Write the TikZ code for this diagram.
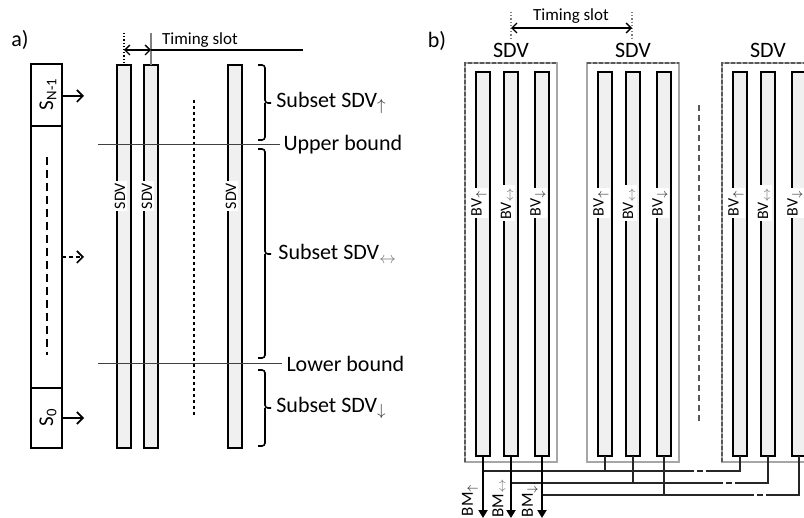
\documentclass[tikz,border=0pt]{standalone}
\usepackage{fontspec}
\setmainfont{Carlito}
\usetikzlibrary{arrows.meta}

\newcommand{\arrUp}{\textcolor{darkgray}{$_{\uparrow}$}}
\newcommand{\arrBoth}{\textcolor{gray}{$_{\leftrightarrow}$}}
\newcommand{\arrDown}{\textcolor{darkgray}{$_{\downarrow}$}}

\begin{document}
\begin{tikzpicture}[x=0.5pt, y=-0.5pt,
    bigtext/.style={font=\fontsize{11}{13}\selectfont},
    slottext/.style={font=\fontsize{8.5}{10}\selectfont},
    barlabel/.style={rotate=90, fill=white, inner sep=0.8pt, font=\fontsize{8}{9}\selectfont},
    bmlabel/.style={rotate=90, inner sep=0pt, font=\fontsize{8.5}{10}\selectfont},
    slotbox/.style={draw=black, line width=1.1pt},
    sdvbar/.style={draw=black, fill=barFill, line width=0.9pt},
    bvbar/.style={draw=black, fill=barFill, line width=1pt},
    groupbox/.style={draw=boxGrey, line width=0.6pt},
    groupdash/.style={draw=dashGrey, line width=0.6pt, dash pattern=on 2pt off 1pt},
    boundline/.style={draw=darkgray, line width=0.5pt},
    squarebrace/.style={line width=0.8pt, rounded corners=1.5pt},
    outarrow/.style={-{Straight Barb[length=3pt,width=6pt]}, line width=0.8pt},
    slotarrow/.style={{Straight Barb[length=2.5pt,width=5pt]}-{Straight Barb[length=2.5pt,width=5pt]}, line width=0.7pt},
    bus/.style={draw=busColour, line width=1.1pt},
    busgap/.style={draw=busColour, line width=1.1pt, dash pattern=on 3pt off 1.5pt},
    bmarrow/.style={-{Triangle[length=4pt,width=4.5pt]}, line width=1.1pt},
]
    \definecolor{barFill}{HTML}{F0F0F0}
    \definecolor{boxGrey}{HTML}{A6A6A6}
    \definecolor{dashGrey}{HTML}{595959}
    \definecolor{busColour}{HTML}{262626}

    % Fix picture size
    \useasboundingbox (0,0) rectangle (804,518);
    \clip (0,0) rectangle (804,518);

    % ---------- a) ----------
    \node[bigtext] (labA) at (20,40) {a)};

    % Slot column
    \draw[slotbox] (31,64) rectangle (62,448);
    \draw[slotbox] (31,126) -- (62,126);
    \draw[slotbox] (31,388) -- (62,388);
    \draw[line width=1.2pt, dash pattern=on 4pt off 2.5pt] (47,157) -- (47,355);
    \node[rotate=90, font=\fontsize{10.5}{12}\selectfont] (sTop) at (48,94) {S\textsubscript{N-1}};
    \node[rotate=90, font=\fontsize{10.5}{12}\selectfont] (sBot) at (48,417) {S\textsubscript{0}};

    % Slot outputs
    \coordinate (outTop) at (62,96);
    \coordinate (outMid) at (62,257);
    \coordinate (outBot) at (62,418);
    \coordinate (inTop) at (84,96);
    \coordinate (inMid) at (84,257);
    \coordinate (inBot) at (84,418);
    \draw[outarrow] (outTop) -- (inTop);
    \draw[outarrow, dash pattern=on 2pt off 1.5pt] (outMid) -- (inMid);
    \draw[outarrow] (outBot) -- (inBot);

    % SDV bars
    \foreach \x/\n in {117/1,144/2,228/3} {
        \draw[sdvbar] (\x,65) rectangle ++(14,383);
        \node[barlabel] (sdv\n) at (\x+3,196) {SDV};
    }
    \draw[line width=1pt, dash pattern=on 1.5pt off 1.5pt] (194,100) -- (194,418);

    % Timing slot
    \coordinate (slotL) at (124,50);
    \coordinate (slotR) at (151,50);
    \coordinate (slotEnd) at (303,50);
    \draw[densely dotted, line width=0.6pt] (124,33) -- (124,65);
    \draw[gray, line width=0.6pt] (151,33) -- (151,65);
    \draw[slotarrow] (slotL) -- (slotR);
    \draw[line width=1pt] (slotR) -- (slotEnd);
    \node[slottext] (slotA) at (200,40) {Timing slot};

    % Bounds
    \draw[boundline] (98,145) -- (280,145) node[right, bigtext, inner sep=1.5pt] (upper) {Upper bound};
    \draw[boundline] (98,364) -- (282,364) node[right, bigtext, inner sep=2pt] (lower) {Lower bound};

    % Subsets
    \foreach \t/\m/\b in {65/103/140, 149/254/358, 370/408/446} {
        \draw[squarebrace] (258,\t) -| (265,\m) -- (271,\m);
        \draw[squarebrace] (258,\b) -| (265,\m);
    }
    \node[bigtext, right, inner sep=1pt] (subUp) at (274,103) {Subset SDV\arrUp};
    \node[bigtext, right, inner sep=1pt] (subMid) at (276,254) {Subset SDV\arrBoth};
    \node[bigtext, right, inner sep=1pt] (subDown) at (274,408) {Subset SDV\arrDown};

    % ---------- b) ----------
    \node[bigtext] (labB) at (437,41) {b)};

    % Timing slot
    \coordinate (slotBL) at (511,28);
    \coordinate (slotBR) at (632,28);
    \draw[gray, densely dotted, line width=0.6pt] (511,12) -- (511,40);
    \draw[gray, densely dotted, line width=0.6pt] (632,12) -- (632,40);
    \draw[slotarrow] (slotBL) -- (slotBR);
    \node[slottext] (slotB) at (571,16) {Timing slot};

    % SDV groups
    \foreach \gx/\g/\dl in {465/1/1, 587/2/0, 722/3/1} {
        \draw[groupbox] (\gx,63) rectangle ++(92,399);
        \ifnum\dl=1
            \draw[groupdash] (\gx,462) |- (\gx+92,63);
        \else
            \draw[groupdash] (\gx,63) -- (\gx+92,63);
        \fi
        \node[bigtext] (sdvTop\g) at (\gx+46,50) {SDV};
        \foreach \ox/\i/\sub in {11/1/\arrUp, 39/2/\arrBoth, 70/3/\arrDown} {
            \draw[bvbar] (\gx+\ox,72) rectangle ++(14,384);
            \node[barlabel] (bv\g\i) at (\gx+\ox+3,203) {BV\sub};
            \coordinate (b\g\i) at (\gx+\ox+7,456);
        }
    }
    \draw[dashGrey, line width=0.8pt, dash pattern=on 3pt off 2pt] (699,105) -- (699,422);

    % Bus lines
    \coordinate (gapA1) at (688,471);
    \coordinate (gapA2) at (710,471);
    \coordinate (gapB1) at (717,483);
    \coordinate (gapB2) at (738,483);
    \coordinate (gapC1) at (748,495);
    \coordinate (gapC2) at (768,495);

    \draw[bus] (b11 |- gapA1) -- (gapA1);
    \draw[busgap] (gapA1) -- (gapA2);
    \draw[bus] (gapA2) -| (b31);
    \draw[bus] (b21) -- (b21 |- gapA1);

    \draw[bus] (b12 |- gapB1) -- (gapB1);
    \draw[busgap] (gapB1) -- (gapB2);
    \draw[bus] (gapB2) -| (b32);
    \draw[bus] (b22) -- (b22 |- gapB1);

    \draw[bus] (b13 |- gapC1) -- (gapC1);
    \draw[busgap] (gapC1) -- (gapC2);
    \draw[bus] (gapC2) -| (b33);
    \draw[bus] (b23) -- (b23 |- gapC1);

    % BM outputs
    \coordinate (bmTip1) at (483,518);
    \coordinate (bmTip2) at (511,518);
    \coordinate (bmTip3) at (542,518);
    \draw[bmarrow] (b11) -- (bmTip1);
    \draw[bmarrow] (b12) -- (bmTip2);
    \draw[bmarrow] (b13) -- (bmTip3);
    \node[bmlabel] (bmUp) at (470,500) {BM\arrUp};
    \node[bmlabel] (bmBoth) at (499,498) {BM\arrBoth};
    \node[bmlabel] (bmDown) at (530,501) {BM\arrDown};

\end{tikzpicture}
\end{document}
